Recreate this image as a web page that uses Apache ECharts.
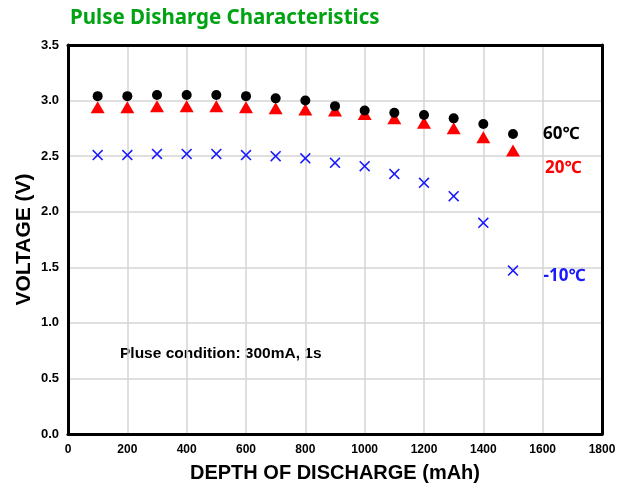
<!DOCTYPE html>
<html>
<head>
<meta charset="utf-8">
<script src="https://cdn.jsdelivr.net/npm/echarts@6/dist/echarts.min.js"></script>
<style>
html, body { margin: 0; padding: 0; background: #fff; }
#main { width: 626px; height: 488px; }
</style>
</head>
<body>
<div id="main"></div>
<script>
// depth of discharge (mAh)
const depth = [100, 200, 300, 400, 500, 600, 700, 800, 900, 1000, 1100, 1200, 1300, 1400, 1500];
const v60 = [3.04, 3.04, 3.05, 3.05, 3.05, 3.04, 3.02, 3.00, 2.95, 2.91, 2.89, 2.87, 2.84, 2.79, 2.70];
const v20 = [2.94, 2.94, 2.95, 2.95, 2.95, 2.94, 2.93, 2.92, 2.91, 2.88, 2.84, 2.80, 2.75, 2.67, 2.55];
const vm10 = [2.51, 2.51, 2.52, 2.52, 2.52, 2.51, 2.50, 2.48, 2.44, 2.41, 2.34, 2.26, 2.14, 1.90, 1.47];
const seriesNames = ['60℃', '20℃', '-10℃'];

function pts(vals) {
    return depth.map(function (d, i) { return [d, vals[i]]; });
}

function withLabel(vals, color, offset) {
    let data = pts(vals);
    let last = data.length - 1;
    data[last] = {
        value: data[last],
        label: {
            show: true,
            position: 'right',
            offset: offset,
            formatter: '{a}',
            color: color,
            fontFamily: 'Noto Sans',
            fontWeight: 'bold',
            fontSize: 17
        }
    };
    return data;
}

const xShape = 'path://M0,1L1,0L5,4L9,0L10,1L6,5L10,9L9,10L5,6L1,10L0,9L4,5Z';
const frameLine = { show: true, onZero: false, lineStyle: { color: '#000', width: 3 } };
const tickFont = {
    color: '#000',
    fontFamily: 'Liberation Sans',
    fontWeight: 'bold'
};

let chart = echarts.init(document.getElementById('main'));
chart.setOption({
    backgroundColor: '#fff',
    animation: false,
    title: {
        text: 'Pulse Disharge Characteristics',
        left: 65,
        top: 3,
        textStyle: {
            color: '#00a312',
            fontFamily: 'Noto Sans',
            fontWeight: 'bold',
            fontSize: 20.5
        }
    },
    grid: {
        left: 68,
        right: 24,
        top: 45,
        bottom: 51
    },
    xAxis: [{
        type: 'value',
        min: 0,
        max: 1800,
        interval: 200,
        name: 'DEPTH OF DISCHARGE (mAh)',
        nameLocation: 'middle',
        nameGap: 29,
        nameMoveOverlap: false,
        nameTextStyle: Object.assign({ fontSize: 20 }, tickFont),
        axisLine: frameLine,
        axisTick: { show: false },
        axisLabel: Object.assign({
            fontSize: 12,
            margin: 10,
            formatter: function (v) { return String(v); }
        }, tickFont),
        splitLine: { show: true, lineStyle: { color: '#d4d4d4', width: 1.5 } }
    }, {
        type: 'value',
        position: 'top',
        min: 0,
        max: 1800,
        interval: 200,
        axisLine: frameLine,
        axisTick: { show: false },
        axisLabel: { show: false },
        splitLine: { show: false }
    }],
    yAxis: [{
        type: 'value',
        min: 0,
        max: 3.5,
        interval: 0.5,
        name: 'VOLTAGE (V)',
        nameLocation: 'middle',
        nameGap: 33,
        nameMoveOverlap: false,
        nameTextStyle: Object.assign({ fontSize: 21 }, tickFont),
        axisLine: frameLine,
        axisTick: { show: false },
        axisLabel: Object.assign({
            fontSize: 13,
            margin: 9,
            formatter: function (v) { return v.toFixed(1); }
        }, tickFont),
        splitLine: { show: true, lineStyle: { color: '#d4d4d4', width: 1.5 } }
    }, {
        type: 'value',
        position: 'right',
        min: 0,
        max: 3.5,
        interval: 0.5,
        axisLine: frameLine,
        axisTick: { show: false },
        axisLabel: { show: false },
        splitLine: { show: false }
    }],
    graphic: [{
        type: 'text',
        left: 120,
        top: 346,
        style: {
            text: 'Pluse condition: 300mA, 1s',
            fill: '#000',
            font: 'bold 15.5px "Liberation Sans"'
        }
    }],
    series: [
        {
            name: seriesNames[1],
            type: 'scatter',
            symbol: 'triangle',
            symbolSize: [14, 12],
            itemStyle: { color: '#ff0000', opacity: 1 },
            data: withLabel(v20, '#ff0000', [20, 18])
        },
        {
            name: seriesNames[0],
            type: 'scatter',
            symbol: 'circle',
            symbolSize: 10,
            itemStyle: { color: '#000', opacity: 1 },
            data: withLabel(v60, '#000', [20, 0])
        },
        {
            name: seriesNames[2],
            type: 'scatter',
            symbol: xShape,
            symbolSize: 11,
            itemStyle: { color: '#1a1aff', opacity: 1 },
            data: withLabel(vm10, '#1a1aff', [20, 6])
        }
    ]
});
</script>
</body>
</html>
